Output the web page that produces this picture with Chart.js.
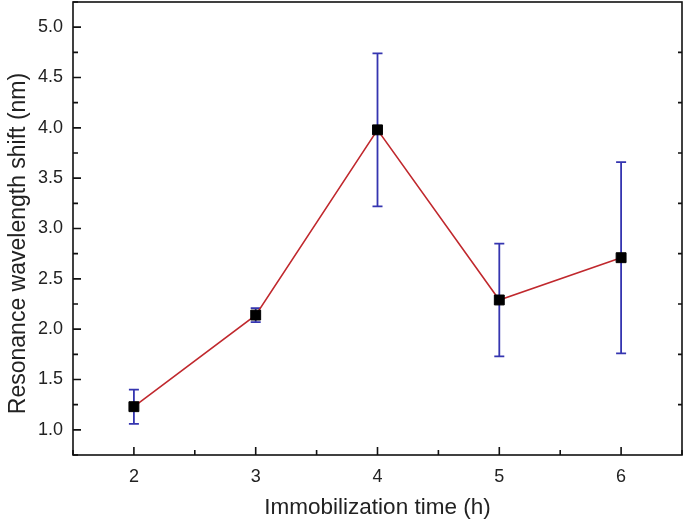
<!DOCTYPE html>
<html>
<head>
<meta charset="utf-8">
<script src="https://cdn.jsdelivr.net/npm/chart.js@4/dist/chart.umd.min.js"></script>
<style>
  html, body { margin: 0; padding: 0; background: #fff; }
  #wrap { width: 685px; height: 525px; }
</style>
</head>
<body>
<div id="wrap"><canvas id="shiftChart" width="685" height="525"></canvas></div>
<script>
// Resonance wavelength shift vs immobilization time
const times = [2, 3, 4, 5, 6];
const shifts = [1.23, 2.14, 3.98, 2.29, 2.71];
const errors = [0.17, 0.07, 0.76, 0.56, 0.95];

const xTicks = [2, 3, 4, 5, 6];
const yTicks = [1.0, 1.5, 2.0, 2.5, 3.0, 3.5, 4.0, 4.5, 5.0];

const fontFamily = '"Liberation Sans", Arial, sans-serif';
const yTitle = 'Resonance wavelength shift (nm)';

// error bars, drawn under the markers
const errorBars = {
    id: 'errorBars',
    beforeDatasetsDraw(chart) {
        const ctx = chart.ctx;
        const x = chart.scales.x, y = chart.scales.y;
        ctx.save();
        ctx.strokeStyle = '#3535b0';
        ctx.lineWidth = 1.8;
        times.forEach((t, i) => {
            const px = x.getPixelForValue(t);
            const top = y.getPixelForValue(shifts[i] + errors[i]);
            const bot = y.getPixelForValue(shifts[i] - errors[i]);
            ctx.beginPath();
            ctx.moveTo(px, top); ctx.lineTo(px, bot);
            ctx.moveTo(px - 5, top); ctx.lineTo(px + 5, top);
            ctx.moveTo(px - 5, bot); ctx.lineTo(px + 5, bot);
            ctx.stroke();
        });
        ctx.restore();
    }
};

// frame, inward ticks (Origin style) and the y title, which sits a bit low
const frame = {
    id: 'frame',
    afterDraw(chart) {
        const ctx = chart.ctx;
        const a = chart.chartArea;
        const x = chart.scales.x, y = chart.scales.y;
        ctx.save();
        ctx.strokeStyle = '#111';
        ctx.lineWidth = 1.6;
        ctx.strokeRect(a.left, a.top, a.right - a.left, a.bottom - a.top);
        ctx.beginPath();
        for (let v = 1.5; v <= 6.5001; v += 0.5) {
            const px = x.getPixelForValue(v);
            const len = Number.isInteger(v) ? 8 : 5;
            ctx.moveTo(px, a.bottom); ctx.lineTo(px, a.bottom - len);
        }
        for (let v = 0.75; v <= 5.2501; v += 0.25) {
            const py = y.getPixelForValue(v);
            const len = Math.abs(v * 2 - Math.round(v * 2)) < 1e-6 ? 8 : 5;
            ctx.moveTo(a.left, py); ctx.lineTo(a.left + len, py);
        }
        for (let v = 1.25; v <= 4.7501; v += 0.5) {
            const py = y.getPixelForValue(v);
            ctx.moveTo(a.right, py); ctx.lineTo(a.right - 4, py);
        }
        ctx.stroke();

        ctx.translate(24.5, 243.5);
        ctx.rotate(-Math.PI / 2);
        ctx.fillStyle = '#222';
        ctx.font = '23px ' + fontFamily;
        ctx.textAlign = 'center';
        ctx.textBaseline = 'alphabetic';
        ctx.fillText(yTitle, 0, 0);
        ctx.restore();
    }
};

const ctx = document.getElementById('shiftChart');
new Chart(ctx, {
    type: 'scatter',
    data: {
        datasets: [{
            data: times.map((t, i) => ({ x: t, y: shifts[i] })),
            showLine: true,
            borderColor: '#c0282d',
            borderWidth: 1.6,
            pointStyle: 'rect',
            pointRadius: 7,
            pointBackgroundColor: '#000',
            pointBorderColor: '#000',
            pointBorderWidth: 1
        }]
    },
    options: {
        responsive: false,
        animation: false,
        layout: { autoPadding: false, padding: { top: 2, right: 3, left: 0, bottom: 0 } },
        plugins: { legend: { display: false }, tooltip: { enabled: false } },
        scales: {
            x: {
                type: 'linear',
                min: 1.5,
                max: 6.5,
                afterBuildTicks: s => { s.ticks = xTicks.map(v => ({ value: v })); },
                afterFit: s => { s.height = 70; s.paddingLeft = 0; s.paddingRight = 0; },
                grid: { display: false, drawTicks: false, tickLength: 0 },
                border: { display: false },
                ticks: {
                    padding: 11,
                    color: '#222',
                    font: { family: fontFamily, size: 18 },
                    callback: v => String(v)
                },
                title: {
                    display: true,
                    text: 'Immobilization time (h)',
                    color: '#222',
                    font: { family: fontFamily, size: 22.5 },
                    padding: { top: 0, bottom: 4 }
                }
            },
            y: {
                type: 'linear',
                min: 0.75,
                max: 5.25,
                afterBuildTicks: s => { s.ticks = yTicks.map(v => ({ value: v })); },
                afterFit: s => { s.width = 73; s.paddingTop = 0; s.paddingBottom = 0; },
                grid: { display: false, drawTicks: false, tickLength: 0 },
                border: { display: false },
                ticks: {
                    padding: 10,
                    color: '#222',
                    font: { family: fontFamily, size: 18 },
                    callback: v => Number(v).toFixed(1)
                },
                title: { display: false }
            }
        }
    },
    plugins: [errorBars, frame]
});
</script>
</body>
</html>
